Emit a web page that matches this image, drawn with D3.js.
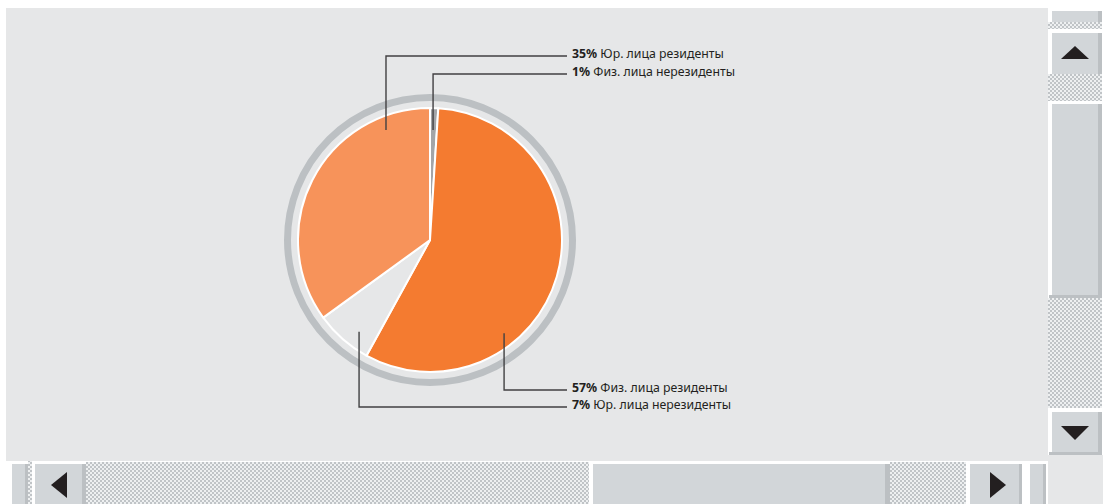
<!DOCTYPE html>
<html>
<head>
<meta charset="utf-8">
<script src="https://cdn.jsdelivr.net/npm/d3@7"></script>
<style>
  html, body { margin: 0; padding: 0; background: #ffffff; }
  svg { display: block; }
</style>
</head>
<body>
<svg id="chart" width="1103" height="504"></svg>
<script>
// Структура клиентской базы (доли, %)
const categories = [
  "Физ. лица нерезиденты",
  "Физ. лица резиденты",
  "Юр. лица нерезиденты",
  "Юр. лица резиденты"
];
const shares = [1, 57, 7, 35];
const sliceColors = ["#a3a5a8", "#f47b30", "#e6e7e8", "#f7935a"];

// Порядок подписей сверху вниз (индексы категорий)
const labelOrder = [3, 0, 1, 2];
const labelRowY = [56, 74, 390, 407];
// Точки выноски внутри секторов: угол (град., по часовой от 12 ч.) и радиус
const leaderAngleDeg = [1.6, 141.5, 217.7, 338.2];
const leaderRadius = [110, 119, 116, 118.5];

const W = 1103, H = 504;
const cx = 430, cy = 240;
const pieR = 132;
const ringR = 142.5;
const labelLineEnd = 567;
const labelTextX = 572;

const svg = d3.select("#chart");

// ----- фон и полосы прокрутки окна -----
const defs = svg.append("defs");
const pat = defs.append("pattern")
  .attr("id", "checker").attr("patternUnits", "userSpaceOnUse")
  .attr("width", 4).attr("height", 4);
pat.append("rect").attr("width", 4).attr("height", 4).attr("fill", "#eef0f1");
pat.append("rect").attr("width", 2).attr("height", 2).attr("fill", "#c0c4c7");
pat.append("rect").attr("x", 2).attr("y", 2).attr("width", 2).attr("height", 2).attr("fill", "#c0c4c7");

const light = "#d2d6d9", dark = "#bcc0c3", white = "#ffffff", bg = "#e6e7e8", ink = "#231f20";

function box(x0, y0, x1, y1, fill) {
  svg.append("rect").attr("x", x0).attr("y", y0)
    .attr("width", x1 - x0).attr("height", y1 - y0).attr("fill", fill);
}

box(6, 8, 1048, 461, bg);

// вертикальная полоса справа
box(1048, 455, 1103, 504, bg);
box(1048, 0, 1102, 11, white);
box(1052, 11, 1098, 22, light);
box(1098, 11, 1102, 22, dark);
box(1048, 22, 1102, 29, "url(#checker)");
box(1048, 29, 1102, 74, white);
box(1052, 33, 1098, 74, light);
box(1098, 33, 1102, 74, dark);
box(1048, 74, 1102, 101, "url(#checker)");
box(1048, 101, 1102, 298, white);
box(1052, 104, 1098, 295, light);
box(1098, 104, 1102, 298, dark);
box(1049, 295, 1102, 298, dark);
box(1048, 298, 1102, 408, "url(#checker)");
box(1048, 408, 1102, 455, white);
box(1052, 412, 1098, 452, light);
box(1098, 412, 1102, 455, dark);
box(1049, 452, 1102, 455, dark);

// горизонтальная полоса снизу
box(9, 461, 28, 504, white);
box(12, 464, 25, 504, light);
box(25, 464, 28, 504, dark);
box(28, 461, 32, 504, "url(#checker)");
box(32, 461, 86, 504, white);
box(35, 464, 82, 504, light);
box(82, 464, 86, 504, dark);
box(86, 462, 589, 504, "url(#checker)");
box(589, 461, 890, 504, white);
box(593, 464, 885, 504, light);
box(885, 464, 890, 504, dark);
box(890, 462, 966, 504, "url(#checker)");
box(966, 461, 1022, 504, white);
box(970, 464, 1019, 504, light);
box(1019, 464, 1022, 504, dark);
box(1026, 461, 1046, 504, white);
box(1030, 464, 1043, 504, light);
box(1043, 464, 1046, 504, dark);

// стрелки
const arrows = [
  [[1075, 46], [1089, 59], [1061, 59]],
  [[1061, 426], [1089, 426], [1075, 440]],
  [[51, 485], [67, 472], [67, 498]],
  [[990, 472], [1006, 485], [990, 498]]
];
svg.append("g").selectAll("path").data(arrows).join("path")
  .attr("d", d => d3.line()(d) + "Z")
  .attr("fill", ink);

// ----- круговая диаграмма -----
const g = svg.append("g").attr("transform", `translate(${cx},${cy})`);

g.append("circle").attr("r", ringR)
  .attr("fill", "none").attr("stroke", "#bcc0c3").attr("stroke-width", 7);

const pie = d3.pie().sort(null).value(d => d.value)
  .startAngle(0).endAngle(2 * Math.PI);
const arc = d3.arc().innerRadius(0).outerRadius(pieR);

const data = categories.map((c, i) => ({ name: c, value: shares[i], color: sliceColors[i] }));
const arcs = pie(data);

g.selectAll("path.slice").data(arcs).join("path")
  .attr("class", "slice")
  .attr("d", arc)
  .attr("fill", d => d.data.color)
  .attr("stroke", white)
  .attr("stroke-width", 2)
  .attr("stroke-linejoin", "round");

// ----- выноски и подписи -----
const lab = svg.append("g");
labelOrder.forEach((idx, row) => {
  const [px, py] = d3.pointRadial(leaderAngleDeg[idx] * Math.PI / 180, leaderRadius[idx]);
  const ax = cx + px, ay = cy + py;
  const ly = labelRowY[row];
  lab.append("path")
    .attr("d", d3.line()([[ax, ay], [ax, ly], [labelLineEnd, ly]]))
    .attr("fill", "none")
    .attr("stroke", "#414042")
    .attr("stroke-width", 1.4);
  const t = lab.append("text")
    .attr("x", labelTextX)
    .attr("y", ly + 1.5)
    .attr("font-family", "'Noto Sans', sans-serif")
    .attr("font-size", 12.3)
    .attr("fill", ink);
  t.append("tspan").attr("font-weight", "bold").text(shares[idx] + "%");
  t.append("tspan").text(" " + categories[idx]);
});
</script>
</body>
</html>
